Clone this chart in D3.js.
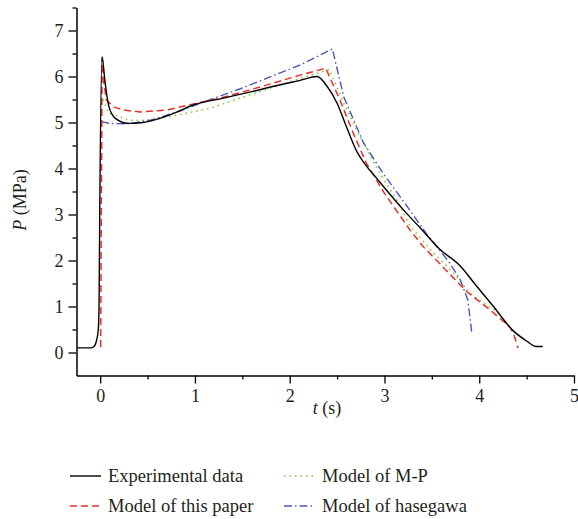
<!DOCTYPE html>
<html>
<head>
<meta charset="utf-8">
<script src="https://cdn.jsdelivr.net/npm/d3@7"></script>
<style>
  body { margin: 0; background: #fff; }
  svg { display: block; }
</style>
</head>
<body>
<div id="chart"></div>
<script>
// values
var expT = [-0.24, -0.1, -0.07, -0.04, -0.02, -0.012, -0.005, 0.02, 0.05, 0.09, 0.16, 0.3, 0.45, 0.63, 0.8, 0.98, 1.3, 1.6, 1.9, 2.1, 2.29, 2.39, 2.5, 2.6, 2.71, 2.8, 2.9, 3.0, 3.2, 3.39, 3.58, 3.8, 3.95, 4.15, 4.36, 4.5, 4.6, 4.67];
var expP = [0.1, 0.1, 0.12, 0.25, 0.5, 1.0, 3.0, 6.43, 5.9, 5.36, 5.09, 4.98, 5.0, 5.09, 5.22, 5.38, 5.53, 5.67, 5.82, 5.91, 6.0, 5.8, 5.42, 4.9, 4.36, 4.08, 3.83, 3.58, 3.1, 2.68, 2.25, 1.88, 1.5, 1.0, 0.47, 0.25, 0.13, 0.13];

var paperT = [0.005, 0.012, 0.02, 0.04, 0.065, 0.14, 0.25, 0.42, 0.7, 1.02, 1.27, 1.7, 2.11, 2.38, 2.53, 2.67, 2.81, 3.0, 3.27, 3.41, 3.87, 4.1, 4.32, 4.36, 4.41];
var paperP = [0.12, 3.0, 6.4, 5.85, 5.49, 5.34, 5.27, 5.23, 5.27, 5.42, 5.53, 5.78, 6.03, 6.18, 5.49, 4.77, 4.11, 3.46, 2.66, 2.3, 1.32, 0.95, 0.56, 0.42, 0.1];

var mpT = [0.03, 0.09, 0.16, 0.3, 0.49, 0.74, 1.16, 1.62, 2.11, 2.42, 2.57, 2.74, 2.81, 2.92, 3.13, 3.27, 3.5, 3.72, 3.9, 4.0, 4.18, 4.32];
var mpP = [5.5, 5.2, 5.16, 5.05, 5.05, 5.13, 5.31, 5.63, 5.96, 6.15, 5.42, 4.7, 4.45, 4.0, 3.31, 2.75, 2.2, 1.75, 1.29, 1.14, 0.9, 0.55];

var hasT = [0.01, 0.1, 0.28, 0.53, 0.8, 1.06, 1.5, 2.11, 2.45, 2.57, 2.78, 2.99, 3.2, 3.44, 3.58, 3.69, 3.8, 3.88, 3.92];
var hasP = [5.02, 4.98, 4.97, 5.05, 5.22, 5.42, 5.75, 6.25, 6.6, 5.56, 4.55, 3.88, 3.29, 2.59, 2.23, 1.94, 1.58, 1.14, 0.45];

var xTicks = [0, 1, 2, 3, 4, 5];
var yTicks = [0, 1, 2, 3, 4, 5, 6, 7];

var seriesNames = ["Experimental data", "Model of this paper", "Model of M-P", "Model of hasegawa"];

var W = 578, H = 519;
var font = "'Liberation Serif', 'DejaVu Serif', serif";

var svg = d3.select("#chart").append("svg")
    .attr("width", W)
    .attr("height", H)
    .style("font-family", font);

svg.append("rect").attr("width", W).attr("height", H).attr("fill", "#fff");

var x = d3.scaleLinear().domain([-0.25, 5]).range([76.5, 574]);
var y = d3.scaleLinear().domain([-0.5, 7.5]).range([375.5, 7.5]);

// minor ticks
var xMinor = d3.range(0.5, 5, 1);
var yMinor = d3.range(0.5, 7.6, 1);

svg.append("g")
    .attr("transform", "translate(0," + y(-0.5) + ")")
    .call(d3.axisBottom(x).tickValues(xMinor).tickSize(4).tickSizeOuter(0).tickFormat(""))
    .call(function (g) { g.select(".domain").remove(); });

svg.append("g")
    .attr("transform", "translate(" + x(-0.25) + ",0)")
    .call(d3.axisLeft(y).tickValues(yMinor).tickSize(4).tickSizeOuter(0).tickFormat(""))
    .call(function (g) { g.select(".domain").remove(); });

svg.append("g")
    .attr("transform", "translate(0," + y(-0.5) + ")")
    .call(d3.axisBottom(x).tickValues(xTicks).tickSize(8).tickSizeOuter(0).tickPadding(6).tickFormat(d3.format("d")));

svg.append("g")
    .attr("transform", "translate(" + x(-0.25) + ",0)")
    .call(d3.axisLeft(y).tickValues(yTicks).tickSize(8).tickSizeOuter(0).tickPadding(5).tickFormat(d3.format("d")));

svg.selectAll("g").attr("font-family", font);
svg.selectAll(".tick line").attr("stroke", "#000").attr("stroke-width", 1.3);
svg.selectAll(".domain").attr("stroke", "#000").attr("stroke-width", 1.5);
svg.selectAll(".tick text")
    .attr("font-family", font)
    .attr("font-size", 18)
    .attr("fill", "#231f20");

// axis titles
var yt = svg.append("text")
    .attr("transform", "translate(26,200) rotate(-90)")
    .attr("text-anchor", "middle")
    .attr("font-size", 18)
    .attr("fill", "#231f20");
yt.append("tspan").style("font-style", "italic").text("P");
yt.append("tspan").text(" (MPa)");

var xt = svg.append("text")
    .attr("x", 327)
    .attr("y", 414)
    .attr("text-anchor", "middle")
    .attr("font-size", 18)
    .attr("fill", "#231f20");
xt.append("tspan").style("font-style", "italic").text("t");
xt.append("tspan").text(" (s)");

// curves
function pts(ts, ps) {
    return ts.map(function (t, i) { return [t, ps[i]]; });
}

var line = d3.line()
    .x(function (d) { return x(d[0]); })
    .y(function (d) { return y(d[1]); });

var smooth = d3.line()
    .curve(d3.curveMonotoneX)
    .x(function (d) { return x(d[0]); })
    .y(function (d) { return y(d[1]); });

var styles = [
    { color: "#000000", width: 1.4, dash: null },
    { color: "#e8302a", width: 1.5, dash: "7,4" },
    { color: "#86c43a", width: 1.6, dash: "1.5,4" },
    { color: "#4a58b8", width: 1.4, dash: "8,3,1.5,3" }
];

var series = [
    { d: pts(mpT, mpP), s: styles[2], gen: line },
    { d: pts(hasT, hasP), s: styles[3], gen: line },
    { d: pts(paperT, paperP), s: styles[1], gen: line },
    { d: pts(expT, expP), s: styles[0], gen: smooth }
];

series.forEach(function (sr) {
    svg.append("path")
        .datum(sr.d)
        .attr("fill", "none")
        .attr("stroke", sr.s.color)
        .attr("stroke-width", sr.s.width)
        .attr("stroke-dasharray", sr.s.dash)
        .attr("stroke-linejoin", "round")
        .attr("d", sr.gen);
});

// legend
var legPos = [[70, 476], [70, 506], [284, 476], [284, 506]];

seriesNames.forEach(function (name, k) {
    var p = legPos[k];
    var g = svg.append("g").attr("transform", "translate(" + p[0] + "," + p[1] + ")");
    g.append("line")
        .attr("x1", 0).attr("x2", 31)
        .attr("y1", 0).attr("y2", 0)
        .attr("stroke", styles[k].color)
        .attr("stroke-width", styles[k].width)
        .attr("stroke-dasharray", styles[k].dash);
    g.append("text")
        .attr("x", 38)
        .attr("y", 6)
        .attr("font-size", 18.5)
        .attr("fill", "#231f20")
        .text(name);
});
</script>
</body>
</html>
